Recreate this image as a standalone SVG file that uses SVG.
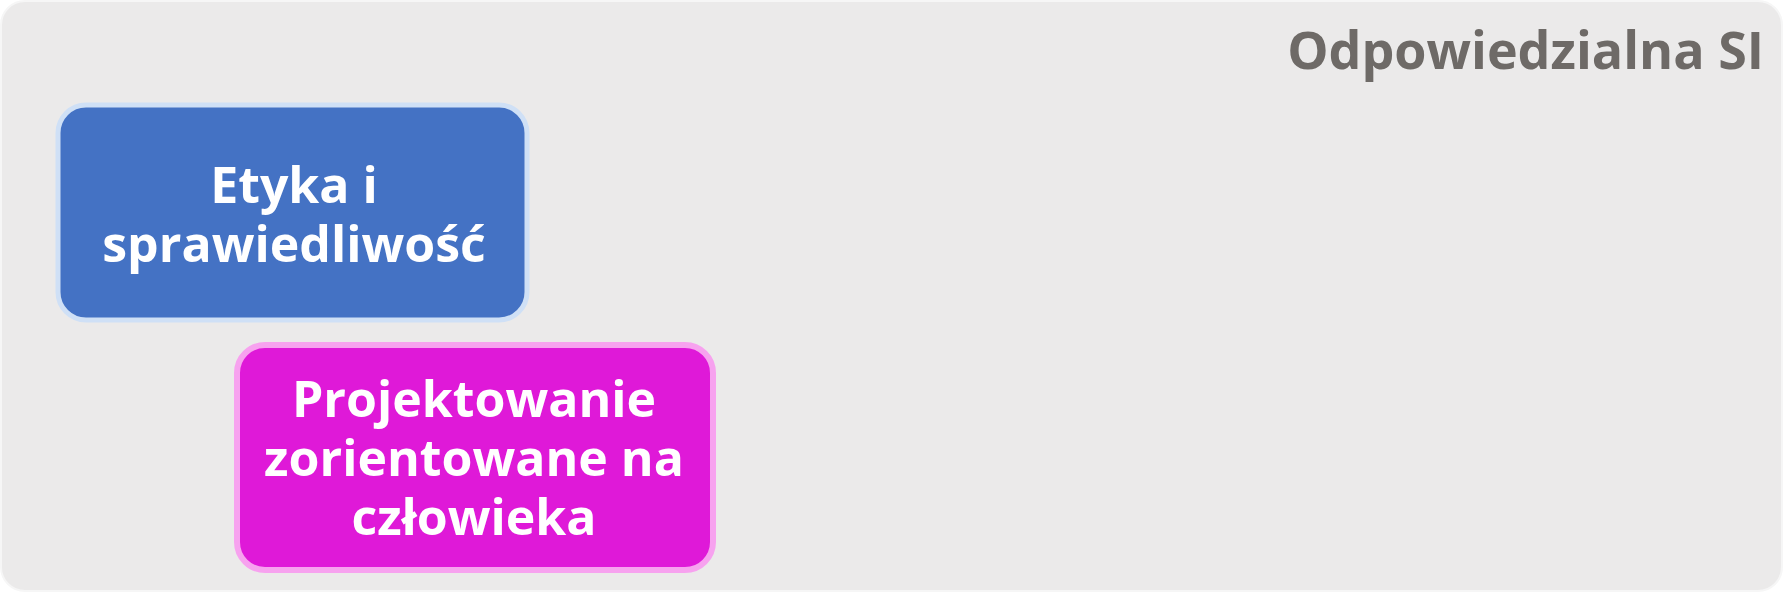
<svg xmlns="http://www.w3.org/2000/svg" width="1783" height="592" viewBox="0 0 1783 592">
<defs>
<style>
.t{font-family:"Open Sans","Noto Sans","Liberation Sans",sans-serif;font-weight:700;text-anchor:middle;fill:#ffffff;font-size:50px}
.title{font-family:"Open Sans","Noto Sans","Liberation Sans",sans-serif;font-weight:700;text-anchor:end;fill:#6e6a67;font-size:52px}
</style>
</defs>
<rect x="1" y="1" width="1781" height="590" rx="24" fill="#ebeaea" stroke="#f6f6f6" stroke-width="2"/>
<text class="title" x="1764" y="69">Odpowiedzialna SI</text>
<g id="connectors"></g>
<g id="node-etyka">
<rect x="58" y="105" width="469" height="215" rx="28" fill="#4472c4" stroke="#cfe0f6" stroke-width="5"/>
<text class="t" x="294" y="203">Etyka i</text>
<text class="t" x="294" y="262">sprawiedliwość</text>
</g>
<g id="node-projektowanie">
<rect x="237" y="345" width="476" height="225" rx="28" fill="#df19d8" stroke="#f7a2ef" stroke-width="6"/>
<text class="t" x="474" y="417">Projektowanie</text>
<text class="t" x="474" y="476">zorientowane na</text>
<text class="t" x="474" y="535">człowieka</text>
</g>
</svg>
